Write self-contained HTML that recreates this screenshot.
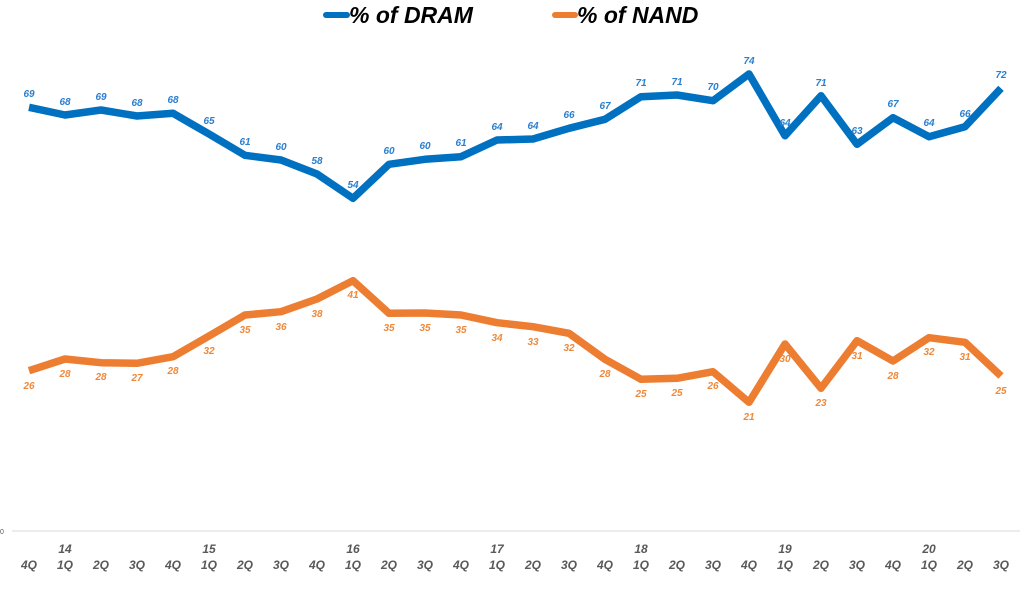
<!DOCTYPE html>
<html>
<head>
<meta charset="utf-8">
<style>
html,body{margin:0;padding:0;background:#fff;}
svg{display:block;}
text{font-family:"Liberation Sans",Arial,sans-serif;font-weight:bold;font-style:italic;}
</style>
</head>
<body>
<svg width="1024" height="589" viewBox="0 0 1024 589" xmlns="http://www.w3.org/2000/svg">
<rect width="1024" height="589" fill="#fff"/>
<!-- legend -->
<line x1="326" y1="15" x2="347" y2="15" stroke="#0070C0" stroke-width="6" stroke-linecap="round"/>
<text x="349" y="23" font-size="23" fill="#000">% of DRAM</text>
<line x1="555" y1="15" x2="575" y2="15" stroke="#ED7D31" stroke-width="6" stroke-linecap="round"/>
<text x="577" y="23" font-size="23" fill="#000">% of NAND</text>

<!-- axis -->
<line x1="12" y1="531" x2="1020" y2="531" stroke="#d9d9d9" stroke-width="1"/>
<text x="0" y="534" font-size="7" fill="#595959" style="font-style:normal;font-weight:normal">0</text>

<!-- series -->
<polyline fill="none" stroke="#0070C0" stroke-width="7.5" stroke-linejoin="round" stroke-linecap="butt"
points="29,107.3 65,115 101,110 137,116 173,113.3 209,134 245,155.3 281,160 317,174 353,198.3 389,164.3 425,159.3 461,156.7 497,140 533,139 569,128.3 605,119.3 641,96.7 677,95 713,100.7 749,74 785,135.7 821,95.7 857,144.3 893,117.7 929,136.7 965,126.7 1001,88.3"/>
<polyline fill="none" stroke="#ED7D31" stroke-width="7.5" stroke-linejoin="round" stroke-linecap="butt"
points="29,370.7 65,359 101,362.7 137,363.3 173,356.7 209,336 245,315 281,311.7 317,299 353,280.7 389,313.3 425,313 461,315 497,322.7 533,326.7 569,333.3 605,359.3 641,379.3 677,378.3 713,371.7 749,402.3 785,344 821,388.3 857,340.7 893,361 929,337.7 965,342.3 1001,376"/>

<!-- DRAM labels -->
<g font-size="10" fill="#2a7fcf" text-anchor="middle">
<text x="29" y="97">69</text>
<text x="65" y="105">68</text>
<text x="101" y="100">69</text>
<text x="137" y="106">68</text>
<text x="173" y="103">68</text>
<text x="209" y="124">65</text>
<text x="245" y="145">61</text>
<text x="281" y="150">60</text>
<text x="317" y="164">58</text>
<text x="353" y="188">54</text>
<text x="389" y="154">60</text>
<text x="425" y="149">60</text>
<text x="461" y="146">61</text>
<text x="497" y="130">64</text>
<text x="533" y="129">64</text>
<text x="569" y="118">66</text>
<text x="605" y="109">67</text>
<text x="641" y="86">71</text>
<text x="677" y="85">71</text>
<text x="713" y="90">70</text>
<text x="749" y="64">74</text>
<text x="785" y="126">64</text>
<text x="821" y="86">71</text>
<text x="857" y="134">63</text>
<text x="893" y="107">67</text>
<text x="929" y="126">64</text>
<text x="965" y="117">66</text>
<text x="1001" y="78">72</text>
</g>

<!-- NAND labels -->
<g font-size="10" fill="#f0883a" text-anchor="middle">
<text x="29" y="389">26</text>
<text x="65" y="377">28</text>
<text x="101" y="380">28</text>
<text x="137" y="381">27</text>
<text x="173" y="374">28</text>
<text x="209" y="354">32</text>
<text x="245" y="333">35</text>
<text x="281" y="330">36</text>
<text x="317" y="317">38</text>
<text x="353" y="298">41</text>
<text x="389" y="331">35</text>
<text x="425" y="331">35</text>
<text x="461" y="333">35</text>
<text x="497" y="341">34</text>
<text x="533" y="345">33</text>
<text x="569" y="351">32</text>
<text x="605" y="377">28</text>
<text x="641" y="397">25</text>
<text x="677" y="396">25</text>
<text x="713" y="389">26</text>
<text x="749" y="420">21</text>
<text x="785" y="362">30</text>
<text x="821" y="406">23</text>
<text x="857" y="359">31</text>
<text x="893" y="379">28</text>
<text x="929" y="355">32</text>
<text x="965" y="360">31</text>
<text x="1001" y="394">25</text>
</g>

<!-- x axis labels -->
<g font-size="12" fill="#595959" text-anchor="middle">
<text x="65" y="553">14</text>
<text x="209" y="553">15</text>
<text x="353" y="553">16</text>
<text x="497" y="553">17</text>
<text x="641" y="553">18</text>
<text x="785" y="553">19</text>
<text x="929" y="553">20</text>

<text x="29" y="569">4Q</text>
<text x="65" y="569">1Q</text>
<text x="101" y="569">2Q</text>
<text x="137" y="569">3Q</text>
<text x="173" y="569">4Q</text>
<text x="209" y="569">1Q</text>
<text x="245" y="569">2Q</text>
<text x="281" y="569">3Q</text>
<text x="317" y="569">4Q</text>
<text x="353" y="569">1Q</text>
<text x="389" y="569">2Q</text>
<text x="425" y="569">3Q</text>
<text x="461" y="569">4Q</text>
<text x="497" y="569">1Q</text>
<text x="533" y="569">2Q</text>
<text x="569" y="569">3Q</text>
<text x="605" y="569">4Q</text>
<text x="641" y="569">1Q</text>
<text x="677" y="569">2Q</text>
<text x="713" y="569">3Q</text>
<text x="749" y="569">4Q</text>
<text x="785" y="569">1Q</text>
<text x="821" y="569">2Q</text>
<text x="857" y="569">3Q</text>
<text x="893" y="569">4Q</text>
<text x="929" y="569">1Q</text>
<text x="965" y="569">2Q</text>
<text x="1001" y="569">3Q</text>
</g>
</svg>
</body>
</html>
